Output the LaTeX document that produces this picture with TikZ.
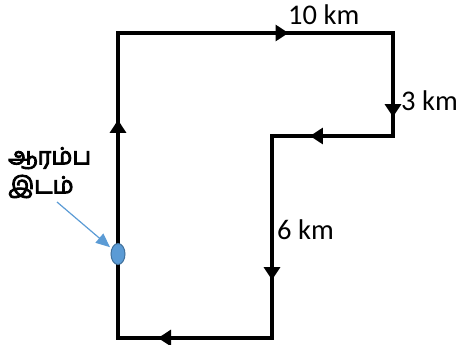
\documentclass[tikz,border=0pt]{standalone}
\usepackage{fontspec}
\setmainfont{Carlito}
\newfontfamily\tamilfont[Script=Tamil]{Hind Madurai}
\newcommand{\heavytext}[1]{\special{pdf:literal direct 2 Tr 0.9 w}#1\special{pdf:literal direct 0 Tr}}
\usetikzlibrary{arrows.meta, decorations.markings, shapes.geometric}
\definecolor{ptblue}{HTML}{5B9BD5}
\definecolor{ptedge}{HTML}{41719C}
\tikzset{
	route/.style={line width=4.5pt, line cap=rect},
	dir/.style={postaction={decorate, decoration={markings,
		mark=at position #1 with {\arrow{Triangle[length=13pt,width=16pt]}}}}},
	kmlabel/.style={font=\fontsize{28.5}{32}\selectfont, inner sep=0pt, anchor=base west}
}
\begin{document}
\begin{tikzpicture}[x=1pt, y=-1pt]
		\useasboundingbox (0,0) rectangle (460,345);
		% corners of the route
		\coordinate (bl) at (118,338);
		\coordinate (tl) at (118,33);
		\coordinate (tr) at (393,33);
		\coordinate (sr) at (393,136);
		\coordinate (sl) at (272,136);
		\coordinate (br) at (272,338);
		\draw[route, dir=0.715] (bl) -- (tl);
		\draw[route, dir=0.62] (tl) -- (tr);
		\draw[route, dir=0.816] (tr) -- (sr);
		\draw[route, dir=0.686] (sr) -- (sl);
		\draw[route, dir=0.713] (sl) -- (br);
		\draw[route, dir=0.74] (br) -- (bl);
		% start point
		\node[ellipse, draw=ptedge, fill=ptblue, line width=1pt,
			minimum width=14pt, minimum height=21pt, inner sep=0pt] (start) at (118,254) {};
		\node[kmlabel] (ten) at (288,25) {10 km};
		\node[kmlabel] (three) at (401,110) {3 km};
		\node[kmlabel] (six) at (277,239) {6 km};
		\node[font=\tamilfont\fontsize{23.5}{29}\selectfont, inner sep=0pt,
			anchor=north west, align=left] (place) at (8,147) {\heavytext{ஆரம்ப}\\\heavytext{இடம்}};
		\coordinate (tail) at (57,202);
		\draw[ptblue, line width=1.2pt, -{Triangle[length=14pt,width=12pt]},
			shorten >=2pt] (tail) -- (start);
	\end{tikzpicture}
\end{document}
